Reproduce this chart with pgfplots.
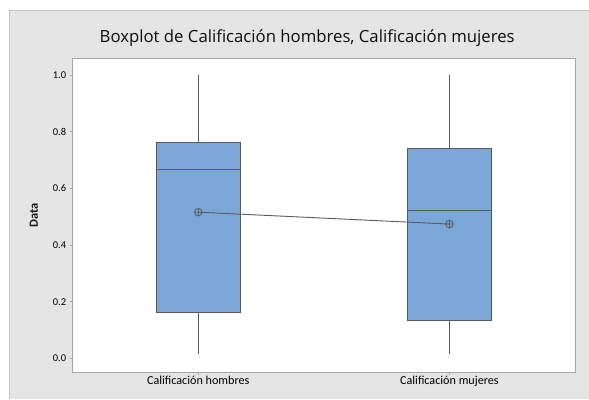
\documentclass[border=0pt]{standalone}
\usepackage{pgfplots}
\pgfplotsset{compat=1.18}
\usepgfplotslibrary{statistics}
\usepackage{fontspec}
\setmainfont{Carlito}
\newfontfamily\titlefont{Open Sans}
\definecolor{panel}{HTML}{E5E5E5}
\definecolor{panelborder}{HTML}{C4C4C4}
\definecolor{boxfill}{HTML}{7BA6D8}
\definecolor{boxedge}{HTML}{5A5A5A}
\definecolor{frame}{HTML}{A6A6A6}
\begin{document}
\begin{tikzpicture}[x=1bp,y=1bp]
\path[use as bounding box] (-72.7,-27) rectangle (516.3,372);
\fill[white] (-72.7,-27) rectangle (516.3,372);
\fill[panel] (-62.7,-27) rectangle (516.3,362);
\draw[panelborder, line width=1bp] (-62.7,-27) -- (-62.7,362) -- (516.3,362);
\node[anchor=base, font=\titlefont\fontsize{16.8}{19}\selectfont, text=black!95] at (234.5,329.3) {Boxplot de Calificación hombres, Calificación mujeres};
\node[rotate=90, font=\fontsize{12.5}{15}\selectfont\bfseries, text=black!90] at (-38.7,156.3) {Data};
\begin{axis}[
  at={(0,0)}, anchor=south west,
  scale only axis, width=502.3bp, height=313.7bp,
  xmin=0.5, xmax=2.5, ymin=-0.048, ymax=1.059,
  axis background/.style={fill=white},
  axis line style={frame, line width=1bp},
  xtick={1,2}, xticklabels={Calificación hombres, Calificación mujeres},
  ytick={0,0.2,0.4,0.6,0.8,1.0},
  yticklabel style={/pgf/number format/fixed, /pgf/number format/fixed zerofill, /pgf/number format/precision=1},
  /pgf/number format/assume math mode=true,
  tick align=outside, tick pos=left,
  major tick length=3bp,
  tick style={frame, line width=0.7bp},
  ticklabel style={font=\fontsize{10.5}{12}\selectfont, text=black},
  xticklabel style={font=\fontsize{12.2}{14}\selectfont, text=black, yshift=2bp},
  boxplot/draw direction=y,
  boxplot/box extend=0.335,
  boxplot/whisker extend=0,
]
\addplot[draw=boxedge, fill=boxfill, line width=1bp,
  boxplot prepared={draw position=1, lower whisker=0.015, lower quartile=0.163, median=0.667, upper quartile=0.762, upper whisker=1.0}]
  coordinates {};
\addplot[draw=boxedge, fill=boxfill, line width=1bp,
  boxplot prepared={draw position=2, lower whisker=0.015, lower quartile=0.135, median=0.523, upper quartile=0.741, upper whisker=1.0}]
  coordinates {};
\addplot[draw=boxedge, line width=0.9bp, mark=oplus, mark size=3.8bp, mark options={line width=0.8bp, draw=boxedge}]
  coordinates {(1,0.516) (2,0.474)};
\end{axis}
\end{tikzpicture}
\end{document}
